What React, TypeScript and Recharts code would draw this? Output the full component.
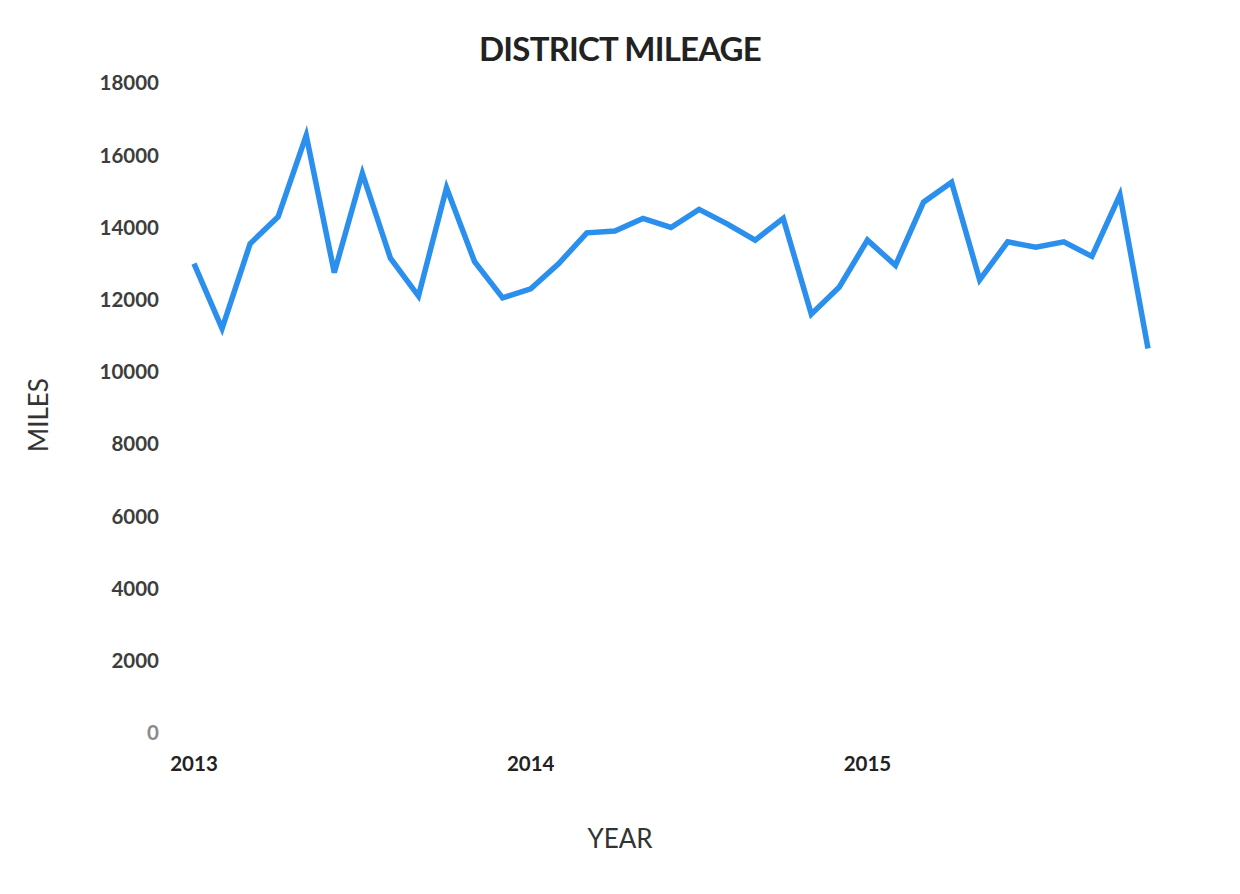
import { LineChart, Line, XAxis, YAxis, Customized } from 'recharts';

// monthly district mileage, Jan 2013 - Nov 2015
const MONTHS = [
  '2013-01', '2013-02', '2013-03', '2013-04', '2013-05', '2013-06',
  '2013-07', '2013-08', '2013-09', '2013-10', '2013-11', '2013-12',
  '2014-01', '2014-02', '2014-03', '2014-04', '2014-05', '2014-06',
  '2014-07', '2014-08', '2014-09', '2014-10', '2014-11', '2014-12',
  '2015-01', '2015-02', '2015-03', '2015-04', '2015-05', '2015-06',
  '2015-07', '2015-08', '2015-09', '2015-10', '2015-11',
];

const MILES = [
  13000, 11200, 13550, 14300, 16550, 12750, 15500, 13150, 12100, 15100, 13050, 12050,
  12300, 13000, 13850, 13900, 14250, 14000, 14500, 14100, 13650, 14250, 11600, 12350,
  13650, 12950, 14700, 15250, 12550, 13600, 13450, 13600, 13200, 14900, 10650,
];

const Y_TICKS = [0, 2000, 4000, 6000, 8000, 10000, 12000, 14000, 16000, 18000];

const FONT = 'Lato, "Open Sans", sans-serif';
const LINIE = '#2b8fee';
const RAHMEN = '#8c8c8c';

const daten = MONTHS.map((monat, i) => ({ monat, meilen: MILES[i] }));

function YTick({ x, y, payload }: any) {
  return (
    <text
      x={x}
      y={y}
      dy="0.36em"
      textAnchor="end"
      fontFamily={FONT}
      fontWeight={700}
      fontSize={20.5}
      fill={payload.value === 0 ? '#8a8a8a' : '#3d3d3d'}
    >
      {payload.value}
    </text>
  );
}

// gescannter Rahmen um das ganze Bild
function Rahmen() {
  return (
    <g>
      <line x1={5} y1={4} x2={1237} y2={4} stroke={RAHMEN} strokeWidth={2} />
      <line x1={5} y1={4} x2={5} y2={888} stroke={RAHMEN} strokeWidth={2} />
      <line x1={1237} y1={4} x2={1237} y2={146} stroke={RAHMEN} strokeWidth={2} />
      <line x1={5} y1={888} x2={265} y2={888} stroke="#cfcfcf" strokeWidth={1} />
    </g>
  );
}

export default function App() {
  return (
    <div style={{ position: 'relative', margin: -8, width: 1240, height: 894, background: '#fff' }}>
      <div
        style={{
          position: 'absolute', left: 0, top: 28, width: 1240, textAlign: 'center',
          fontFamily: FONT, fontWeight: 700, fontSize: 33, lineHeight: '40px', color: '#222',
          letterSpacing: -0.8,
        }}
      >
        DISTRICT MILEAGE
      </div>
      <div style={{ position: 'absolute', left: 0, top: 0 }}>
        <LineChart width={1240} height={894} data={daten} margin={{ top: 83, right: 92, bottom: 46, left: 0 }}>
          <Customized component={Rahmen} />
          <XAxis
            dataKey="monat"
            interval={11}
            tickFormatter={(v: string) => v.slice(0, 4)}
            axisLine={false}
            tickLine={false}
            tickSize={0}
            tickMargin={23}
            height={115}
            padding={{ left: 0, right: 0 }}
            tick={{ fontFamily: FONT, fontWeight: 700, fontSize: 20.5, fill: '#222' }}
            label={{
              content: ({ viewBox }: any) => (
                <text
                  x={viewBox.x + viewBox.width / 2 - 51}
                  y={viewBox.y + viewBox.height}
                  textAnchor="middle"
                  fontFamily={FONT}
                  fontSize={26}
                  fill="#333"
                >
                  YEAR
                </text>
              ),
            }}
          />
          <YAxis
            domain={[0, 18000]}
            ticks={Y_TICKS}
            axisLine={false}
            tickLine={false}
            tickSize={0}
            tickMargin={35}
            width={194}
            tick={<YTick />}
            label={{
              content: ({ viewBox }: any) => {
                const cx = viewBox.x + 38;
                const cy = viewBox.y + viewBox.height / 2 + 7;
                return (
                  <text
                    x={cx}
                    y={cy}
                    transform={`rotate(-90 ${cx} ${cy})`}
                    textAnchor="middle"
                    dominantBaseline="central"
                    fontFamily={FONT}
                    fontSize={26}
                    fill="#333"
                  >
                    MILES
                  </text>
                );
              },
            }}
          />
          <Line
            type="linear"
            dataKey="meilen"
            stroke={LINIE}
            strokeWidth={5.5}
            dot={false}
            activeDot={false}
            isAnimationActive={false}
          />
        </LineChart>
      </div>
    </div>
  );
}
